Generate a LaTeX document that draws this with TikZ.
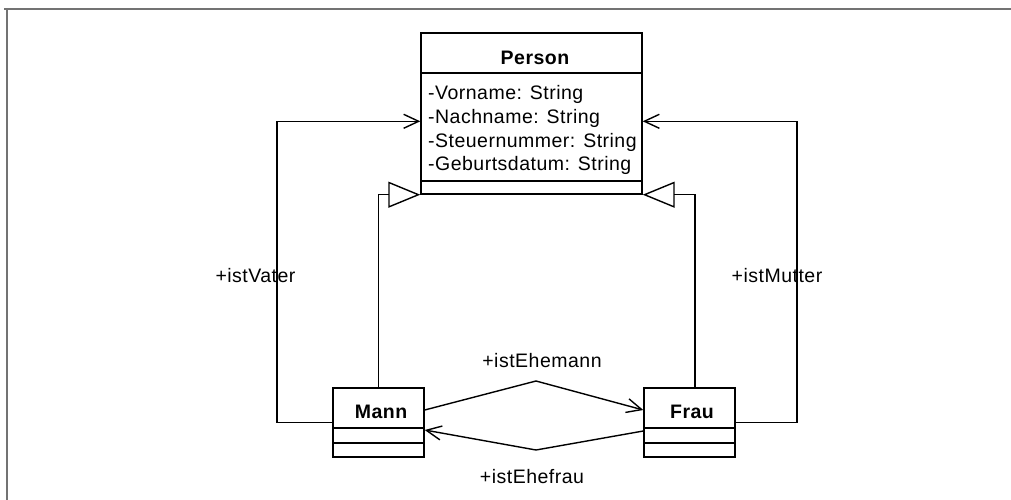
\documentclass[tikz,border=0pt]{standalone}
\usepackage{fontspec}
\setmainfont[LetterSpace=2.5]{Liberation Sans}
\usetikzlibrary{arrows.meta}
\begin{document}
\begin{tikzpicture}[x=1pt,y=-1pt,
  every node/.style={font=\fontsize{19.5}{23}\selectfont, inner sep=0pt},
  cls/.style={draw, line width=1.4pt, rectangle, minimum width=#1, inner sep=0pt},
  sep/.style={line width=1.4pt},
  gen/.style={line width=1.4pt, -{Triangle[open, length=32pt, width=26pt, line width=1.4pt]}},
  assoc/.style={line width=1.4pt, -{Straight Barb[length=15pt, width=14pt, line width=1.4pt]}},
  lbl/.style={anchor=center},
  attr/.style={anchor=west}
]
\useasboundingbox (0,0) rectangle (1011,500);
% outer frame
\draw[line width=2pt, color=black!55] (4,9.5) -- (1011,9.5);
\draw[line width=2pt, color=black!55] (7,9.5) -- (7,500);

% classes
\node[cls=221pt, minimum height=161pt] (person) at (531.5,113.5) {};
\node[cls=91pt, minimum height=69pt] (mann) at (378.5,422.5) {};
\node[cls=91pt, minimum height=69pt] (frau) at (689.5,422.5) {};

% compartments
\draw[sep] (421,73) -- (642,73);
\draw[sep] (421,181) -- (642,181);
\draw[sep] (333,428) -- (424,428);
\draw[sep] (333,443) -- (424,443);
\draw[sep] (644,428) -- (735,428);
\draw[sep] (644,443) -- (735,443);

% texts
\node[font=\fontsize{19.5}{23}\selectfont\bfseries] (ptitle) at (535,58) {Person};
\node[attr] (a1) at (428,94) {-Vorname: String};
\node[attr] (a2) at (428,118) {-Nachname: String};
\node[attr] (a3) at (428,142) {-Steuernummer: String};
\node[attr] (a4) at (428,165) {-Geburtsdatum: String};
\node[font=\fontsize{19.5}{23}\selectfont\bfseries] (mtitle) at (381,412) {Mann};
\node[font=\fontsize{19.5}{23}\selectfont\bfseries] (ftitle) at (692,412) {Frau};

% generalizations
\draw[gen] (mann.north) |- (person.south west);
\draw[gen] ([xshift=5.5pt]frau.north) |- (person.south east);

% associations
\coordinate (pvin) at ([yshift=-89pt]person.north west);
\coordinate (pmin) at ([yshift=-89pt]person.north east);
\coordinate (vcorner) at (277,422.5);
\coordinate (mcorner) at (797,422.5);
\draw[assoc] (mann.west) -- (vcorner) |- (pvin);
\draw[assoc] (frau.east) -- (mcorner) |- (pmin);

\coordinate (emtop) at (536,381);
\coordinate (efbot) at (536,450);
\draw[assoc] ([yshift=12.5pt]mann.east) -- (emtop) -- ([yshift=12.5pt]frau.west);
\draw[assoc] ([yshift=-8.5pt]frau.west) -- (efbot) -- ([yshift=-7.5pt]mann.east);

% labels
\node[lbl] (lv) at (255.5,276) {+istVater};
\node[lbl] (lm) at (777,276) {+istMutter};
\node[lbl] (lem) at (542,361) {+istEhemann};
\node[lbl] (lef) at (532,477) {+istEhefrau};
\end{tikzpicture}
\end{document}
